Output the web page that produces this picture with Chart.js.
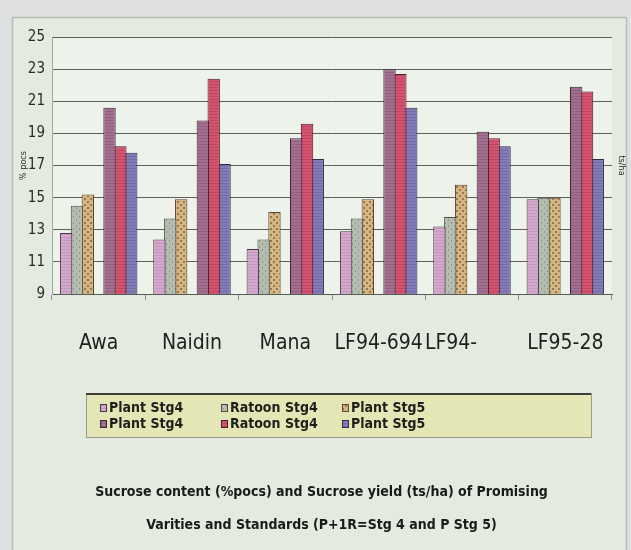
<!DOCTYPE html>
<html>
<head>
<meta charset="utf-8">
<script src="https://cdn.jsdelivr.net/npm/chart.js@4.4.1/dist/chart.umd.min.js"></script>
<style>
  html, body { margin: 0; padding: 0; background: #dfe1e0; }
  #c { display: block; }
</style>
</head>
<body>
<canvas id="c" width="631" height="550"></canvas>
<script>
// Varieties and standards
const categories = ['Awa', 'Naidin', 'Mana', 'LF94-694', 'LF94-', 'LF95-28'];
const yTickValues = [9, 11, 13, 15, 17, 19, 21, 23, 25];

// Sucrose content (% pocs)
const plantStg4Pocs  = [12.8, 12.4, 11.8, 12.9, 13.2, 14.9];
const ratoonStg4Pocs = [14.5, 13.7, 12.4, 13.7, 13.8, 15.0];
const plantStg5Pocs  = [15.2, 14.9, 14.1, 14.9, 15.8, 15.0];

// Sucrose yield (ts/ha)
const plantStg4Yield  = [20.6, 19.8, 18.7, 23.0, 19.1, 21.9];
const ratoonStg4Yield = [18.2, 22.4, 19.6, 22.7, 18.7, 21.6];
const plantStg5Yield  = [17.8, 17.1, 17.4, 20.6, 18.2, 17.4];

const seriesNames = ['Plant Stg4', 'Ratoon Stg4', 'Plant Stg5'];
const titleLines = [
  'Sucrose content (%pocs) and Sucrose yield (ts/ha) of Promising',
  'Varities and Standards (P+1R=Stg 4 and P Stg 5)'
];

const NARROW = "'Liberation Sans Narrow', 'DejaVu Sans Condensed', 'Arial Narrow', sans-serif";

// Small textured fills for the bars
function texture(base, ink, kind) {
  const t = document.createElement('canvas');
  t.width = 6; t.height = 6;
  const g = t.getContext('2d');
  g.fillStyle = base; g.fillRect(0, 0, 6, 6);
  g.fillStyle = ink;
  if (kind === 'h') { g.fillRect(0, 0, 6, 1); g.fillRect(0, 3, 6, 1); }
  if (kind === 'v') { g.fillRect(1, 0, 1, 2); g.fillRect(4, 3, 1, 2); }
  if (kind === 'dots') { g.fillRect(0, 0, 2, 2); g.fillRect(3, 3, 2, 2); }
  return g.createPattern(t, 'repeat');
}

const fills = [
  texture('#d3a8cc', '#c598bd', 'h'),
  texture('#b4bdb0', '#8d998a', 'v'),
  texture('#d4b584', '#9a7648', 'dots'),
  texture('#a26f90', '#93607f', 'h'),
  texture('#d4536f', '#c24662', 'h'),
  texture('#827bb6', '#736ca7', 'h')
];
const borders = ['#4a3646', '#4a4a44', '#5a4430', '#3e2434', '#4a1e2a', '#2e2a4a'];

const seriesValues = [plantStg4Pocs, ratoonStg4Pocs, plantStg5Pocs, plantStg4Yield, ratoonStg4Yield, plantStg5Yield];
const seriesSets = seriesValues.map((vals, i) => ({
  label: seriesNames[i % 3],
  data: vals,
  backgroundColor: fills[i],
  borderColor: borders[i],
  borderWidth: 1,
  borderSkipped: 'bottom'
}));
// An empty slot between the content triple and the yield triple
const gapSlot = { label: '', data: categories.map(() => null), spacer: true };
const datasets = [...seriesSets.slice(0, 3), gapSlot, ...seriesSets.slice(3)];

const backdrop = {
  id: 'backdrop',
  beforeDraw(chart) {
    const { ctx, width, height, chartArea: a } = chart;
    ctx.save();
    ctx.fillStyle = '#dfe1e0';
    ctx.fillRect(0, 0, width, height);
    ctx.fillStyle = '#e3eadf';
    ctx.fillRect(12, 17, 614, height - 17);
    ctx.strokeStyle = '#b7bcb5';
    ctx.lineWidth = 1.5;
    ctx.strokeRect(12.5, 17.5, 614, height + 5);
    ctx.fillStyle = '#edf2ea';
    ctx.fillRect(a.left, a.top, a.right - a.left, a.bottom - a.top);
    ctx.restore();
  }
};

const legendBox = {
  id: 'legendBox',
  afterDraw(chart) {
    const { ctx } = chart;
    const bx = 86, by = 393, bw = 505, bh = 44;
    ctx.save();
    ctx.fillStyle = '#e4e6b5';
    ctx.fillRect(bx, by, bw, bh);
    ctx.strokeStyle = '#9a9a8c';
    ctx.lineWidth = 1;
    ctx.strokeRect(bx + 0.5, by + 0.5, bw, bh);
    ctx.strokeStyle = '#3c3c38';
    ctx.lineWidth = 2;
    ctx.beginPath(); ctx.moveTo(bx, by + 1); ctx.lineTo(bx + bw, by + 1); ctx.stroke();
    ctx.font = 'bold 14px ' + NARROW;
    ctx.textBaseline = 'middle';
    ctx.textAlign = 'left';
    chart.data.datasets.filter(ds => !ds.spacer).forEach((ds, i) => {
      const col = i % 3, row = Math.floor(i / 3);
      const x = bx + 14 + col * 121;
      const y = by + 15 + row * 16;
      ctx.fillStyle = ds.backgroundColor;
      ctx.fillRect(x, y - 4, 7, 8);
      ctx.strokeStyle = ds.borderColor;
      ctx.lineWidth = 1;
      ctx.strokeRect(x + 0.5, y - 3.5, 6, 7);
      ctx.fillStyle = '#1e1e1a';
      ctx.fillText(ds.label, x + 9, y);
    });
    ctx.restore();
  }
};

new Chart(document.getElementById('c'), {
  type: 'bar',
  data: { labels: categories, datasets },
  plugins: [backdrop, legendBox],
  options: {
    responsive: false,
    animation: false,
    datasets: { bar: { categoryPercentage: 0.814, barPercentage: 1.14 } },
    layout: { padding: { top: 37, left: 12, right: 0, bottom: 0 } },
    plugins: {
      legend: { display: false },
      tooltip: { enabled: false },
      title: {
        display: true,
        position: 'bottom',
        text: titleLines,
        color: '#1a1a18',
        font: { family: NARROW, size: 14, weight: 'bold', lineHeight: '33px' },
        padding: { top: 0, bottom: 8 }
      }
    },
    scales: {
      x: {
        type: 'category',
        position: 'bottom',
        offset: true,
        afterFit(s) { s.height = 182; s.paddingLeft = 0; s.paddingRight = 0; },
        grid: { drawOnChartArea: false, tickLength: 6, color: '#8c9088', offset: true },
        border: { color: '#5a5a55' },
        ticks: {
          color: '#1f1f1d',
          font: { family: NARROW, size: 21 },
          padding: 31,
          maxRotation: 0,
          autoSkip: false,
          // the truncated "LF94-" label sits toward the left of its group
          callback(v, i) { const t = categories[i]; return t.endsWith('-') ? t + '\u00a0'.repeat(7) : t; }
        }
      },
      y: {
        position: 'left',
        min: 9, max: 25,
        afterFit(s) { s.width = 40; },
        afterBuildTicks(s) { s.ticks = yTickValues.map(v => ({ value: v })); },
        grid: { color: '#5e5f58', lineWidth: 1, drawTicks: false },
        border: { color: '#a4a8a0' },
        ticks: { color: '#2a2a28', font: { family: NARROW, size: 15 }, padding: 7 },
        title: { display: true, text: '% pocs', color: '#2a2a28', font: { family: NARROW, size: 9 }, padding: { top: 6, bottom: 0 } }
      },
      y2: {
        position: 'right',
        afterFit(s) { s.width = 19; },
        grid: { display: false },
        border: { display: false },
        ticks: { display: false },
        title: { display: true, text: 'ts/ha', color: '#2a2a28', font: { family: NARROW, size: 9 }, padding: { top: 4, bottom: 0 } }
      }
    }
  }
});
</script>
</body>
</html>
